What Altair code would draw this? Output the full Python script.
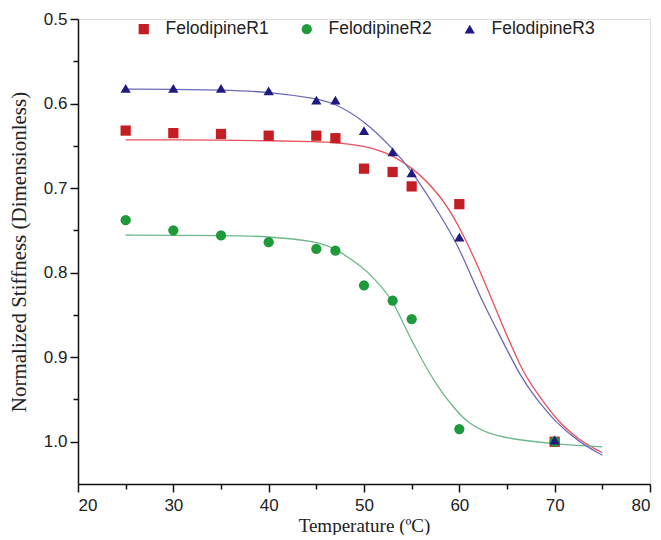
import altair as alt
import pandas as pd

series_names = ["FelodipineR1", "FelodipineR2", "FelodipineR3"]

# measured points
temps = [25, 30, 35, 40, 45, 47, 50, 53, 55, 60, 70]
r1_vals = [0.632, 0.635, 0.636, 0.638, 0.638, 0.641, 0.677, 0.681, 0.698, 0.719, 1.0]
r2_vals = [0.738, 0.750, 0.756, 0.764, 0.772, 0.774, 0.815, 0.833, 0.855, 0.985, 1.0]
r3_vals = [0.582, 0.582, 0.582, 0.585, 0.596, 0.596, 0.632, 0.657, 0.682, 0.758, 0.998]

# fitted curves
r1_fit_t = [25, 30, 35, 40, 45, 47, 50, 52, 55, 58, 60, 62, 64, 66.5, 68, 70, 72.5, 75]
r1_fit_v = [0.643, 0.643, 0.643, 0.644, 0.645, 0.646, 0.650, 0.656, 0.674, 0.708, 0.745,
            0.793, 0.848, 0.915, 0.940, 0.972, 0.998, 1.013]
r2_fit_t = [25, 30, 35, 40, 45, 47, 50, 51, 53, 54, 56, 57.6, 59.4, 61, 63, 65, 70, 75]
r2_fit_v = [0.7555, 0.756, 0.756, 0.757, 0.763, 0.771, 0.795, 0.806, 0.832, 0.858, 0.902,
            0.933, 0.960, 0.979, 0.990, 0.996, 1.003, 1.006]
r3_fit_t = [25, 30, 35, 40, 45, 47, 50, 53, 55, 58, 60, 62, 64, 66.5, 68, 70, 72.5, 75]
r3_fit_v = [0.583, 0.583, 0.584, 0.586, 0.594, 0.600, 0.620, 0.653, 0.679, 0.732, 0.770,
            0.825, 0.869, 0.925, 0.948, 0.976, 1.000, 1.016]

point_colors = ["#C41E24", "#1E9A3A", "#201A80"]
line_colors = ["#E8505A", "#6DB88A", "#6A6AB8"]
shapes = ["square", "circle", "triangle-up"]
point_sizes = [105, 105, 150]

x_major = [20, 30, 40, 50, 60, 70, 80]
x_minor = [25, 35, 45, 55, 65, 75]
y_major = [0.5, 0.6, 0.7, 0.8, 0.9, 1.0]
y_minor = [0.55, 0.65, 0.75, 0.85, 0.95]

pts = pd.DataFrame({
    "T": temps * 3,
    "v": r1_vals + r2_vals + r3_vals,
    "series": [series_names[0]] * len(temps) + [series_names[1]] * len(temps) + [series_names[2]] * len(temps),
})
fit = pd.DataFrame({
    "T": r1_fit_t + r2_fit_t + r3_fit_t,
    "v": r1_fit_v + r2_fit_v + r3_fit_v,
    "series": [series_names[0]] * len(r1_fit_t) + [series_names[1]] * len(r2_fit_t) + [series_names[2]] * len(r3_fit_t),
})

serif = "Liberation Serif"
sans = "Liberation Sans"
x_scale = alt.Scale(domain=[20, 80], nice=False)
y_scale = alt.Scale(domain=[0.5, 1.05], reverse=True, nice=False, zero=False)

common_axis = dict(labelFont=sans, labelFontSize=17, labelColor="#222",
                   titleFont=serif, titleFontWeight="normal", titleColor="#222",
                   domainColor="#111", domainWidth=1.5, tickColor="#111", tickWidth=1.5,
                   grid=False, tickSize=8)

x_main = alt.X("T:Q", scale=x_scale,
               axis=alt.Axis(values=x_major, title="Temperature (ºC)", orient="bottom",
                             titleFontSize=19, labelPadding=5, titlePadding=3, **common_axis))
y_main = alt.Y("v:Q", scale=y_scale,
               axis=alt.Axis(values=y_major, title="Normalized Stiffness (Dimensionless)", orient="left",
                             titleFontSize=21, format=".1f", labelPadding=3, titlePadding=14, **common_axis))

lines = alt.Chart(fit).mark_line(strokeWidth=1.3, interpolate="basis").encode(
    x=x_main, y=y_main,
    color=alt.Color("series:N", scale=alt.Scale(domain=series_names, range=line_colors), legend=None),
    detail="series:N",
)

points = alt.Chart(pts).mark_point(filled=True, opacity=1).encode(
    x=alt.X("T:Q", scale=x_scale, axis=None),
    y=alt.Y("v:Q", scale=y_scale, axis=None),
    color=alt.Color("series:N", scale=alt.Scale(domain=series_names, range=point_colors),
                    legend=alt.Legend(title=None, orient="none", legendX=57, legendY=1,
                                      direction="horizontal", columnPadding=29,
                                      labelFont=sans, labelFontSize=17.5, labelColor="#222",
                                      symbolSize=64, labelOffset=13, padding=0)),
    shape=alt.Shape("series:N", scale=alt.Scale(domain=series_names, range=shapes)),
    size=alt.Size("series:N", scale=alt.Scale(domain=series_names, range=point_sizes), legend=None),
)

minor_df = pd.DataFrame({"T": x_minor[:len(y_minor)], "v": y_minor})

minor = alt.Chart(minor_df).mark_point(opacity=0).encode(
    x=alt.X("T:Q", scale=x_scale,
            axis=alt.Axis(values=x_minor, orient="bottom", labels=False, domain=False, title=None,
                          tickSize=5, tickWidth=1.5, tickColor="#111", grid=False)),
    y=alt.Y("v:Q", scale=y_scale,
            axis=alt.Axis(values=y_minor, orient="left", labels=False, domain=False, title=None,
                          tickSize=5, tickWidth=1.5, tickColor="#111", grid=False)),
)

chart = alt.layer(lines, points, minor).resolve_scale(
    color="independent", shape="independent", size="independent"
).resolve_axis(x="independent", y="independent").properties(
    width=572, height=465, autosize="none",
    padding={"left": 70, "top": 11, "right": 3, "bottom": 51},
).configure_view(stroke=None).configure(background="white")

chart.save("out.html", embed_options={"renderer": "svg", "actions": False})
